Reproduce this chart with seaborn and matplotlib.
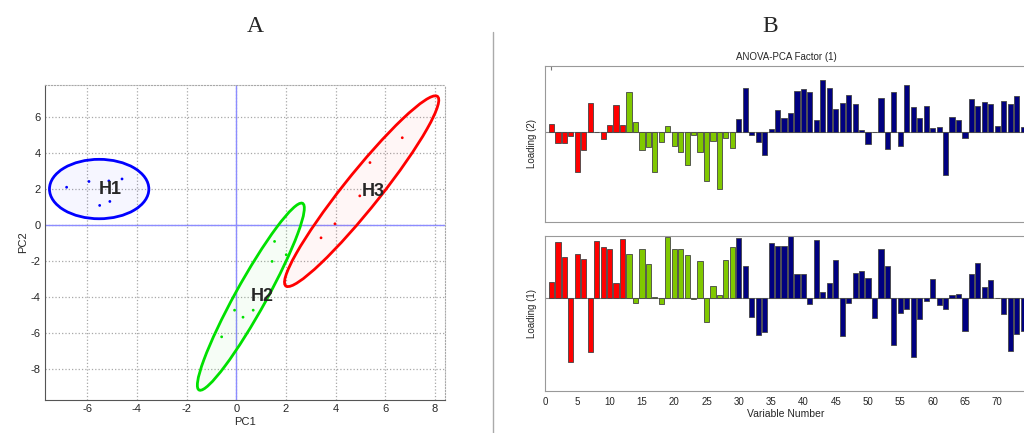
import numpy as np
import pandas as pd
import matplotlib
matplotlib.use("Agg")
import matplotlib.pyplot as plt
import seaborn as sns
from matplotlib.patches import Ellipse
from matplotlib.lines import Line2D

# ---- panel A: PCA scores ----
h1_pc1 = [-6.83, -5.93, -5.13, -4.60, -5.50, -5.09]
h1_pc2 = [2.12, 2.44, 2.47, 2.58, 1.11, 1.33]
h2_pc1 = [1.54, 2.01, 1.44, -0.07, 0.27, 0.68, -0.59]
h2_pc2 = [-0.89, -1.63, -2.00, -4.71, -5.10, -4.71, -6.19]
h3_pc1 = [6.68, 5.38, 4.97, 3.97, 3.41]
h3_pc2 = [4.87, 3.49, 1.64, 0.09, -0.69]
group_names = ["H1", "H2", "H3"]
group_colors = {"H1": "#0000ff", "H2": "#00e000", "H3": "#ff0000"}

# confidence ellipses (data units)
ell_cx = [-5.52, 0.585, 5.045]
ell_cy = [2.02, -3.96, 1.90]
ell_semi_major = [2.00, 5.59, 6.09]
ell_semi_minor = [1.65, 0.65, 0.80]
ell_angle = [0.0, 68.3, 60.2]

# ---- panel B: ANOVA-PCA loadings, variables 1..74 ----
loading2 = [0.024, -0.032, -0.032, -0.010, -0.118, -0.053, 0.088, 0.000, -0.021, 0.021,
            0.083, 0.023, 0.120, 0.031, -0.054, -0.045, -0.119, -0.030, 0.019, -0.042,
            -0.060, -0.097, -0.007, -0.060, -0.146, -0.025, -0.171, -0.016, -0.046, 0.040,
            0.133, -0.009, -0.028, -0.069, 0.009, 0.068, 0.044, 0.057, 0.125, 0.130,
            0.120, 0.037, 0.156, 0.134, 0.069, 0.089, 0.112, 0.086, 0.008, -0.036,
            0.000, 0.102, -0.051, 0.122, -0.042, 0.143, 0.077, 0.042, 0.079, 0.012,
            0.017, -0.128, 0.045, 0.038, -0.018, 0.100, 0.078, 0.092, 0.085, 0.020,
            0.093, 0.084, 0.108, 0.016]
loading1 = [0.046, 0.167, 0.121, -0.194, 0.130, 0.115, -0.163, 0.169, 0.151, 0.145,
            0.044, 0.176, 0.131, -0.016, 0.146, 0.100, 0.003, -0.020, 0.181, 0.145,
            0.147, 0.128, -0.003, 0.110, -0.074, 0.036, 0.008, 0.112, 0.151, 0.180,
            0.095, -0.058, -0.112, -0.102, 0.163, 0.155, 0.155, 0.186, 0.072, 0.072,
            -0.019, 0.172, 0.017, 0.045, 0.112, -0.114, -0.015, 0.073, 0.079, 0.059,
            -0.060, 0.147, 0.096, -0.142, -0.047, -0.034, -0.178, -0.064, -0.010, 0.057,
            -0.022, -0.034, 0.009, 0.012, -0.101, 0.070, 0.104, 0.032, 0.054, 0.000,
            -0.048, -0.159, -0.109, -0.100]
block_ends = [12, 29, 74]
block_names = ["b1", "b2", "b3"]
block_colors = ["#ff0000", "#80c800", "#000080"]

sns.set_style("white")
plt.rcParams["font.family"] = ["Liberation Sans", "DejaVu Sans"]
plt.rcParams["axes.unicode_minus"] = False

W, H = 1024, 433
fig = plt.figure(figsize=(W / 100, H / 100), dpi=100)

# ---------- panel A ----------
ax = fig.add_axes([45 / W, 33 / H, 400 / W, 315 / H])
pts = pd.concat([
    pd.DataFrame({"PC1": h1_pc1, "PC2": h1_pc2, "grp": "H1"}),
    pd.DataFrame({"PC1": h2_pc1, "PC2": h2_pc2, "grp": "H2"}),
    pd.DataFrame({"PC1": h3_pc1, "PC2": h3_pc2, "grp": "H3"}),
])
ax.grid(True, color="#a8a8a8", linestyle=":", linewidth=0.9)
ax.axhline(0, color="#8c8cff", lw=1.0, zorder=1)
ax.axvline(0, color="#8c8cff", lw=1.0, zorder=1)

for i, g in enumerate(group_names):
    c = group_colors[g]
    xy = (ell_cx[i], ell_cy[i])
    w, h = 2 * ell_semi_major[i], 2 * ell_semi_minor[i]
    ax.add_patch(Ellipse(xy, w, h, angle=ell_angle[i], facecolor=c, alpha=0.035,
                         edgecolor="none", zorder=2))
    ax.add_patch(Ellipse(xy, w, h, angle=ell_angle[i], facecolor="none",
                         edgecolor=c, lw=2.0, zorder=3))
    ax.text(ell_cx[i], ell_cy[i], g, ha="left", va="center", fontsize=13,
            fontweight="bold", zorder=5)

sns.scatterplot(data=pts, x="PC1", y="PC2", hue="grp", palette=group_colors,
                s=4, linewidth=0, legend=False, ax=ax, zorder=4)
ax.set_xlim(-7.7, 8.4)
ax.set_ylim(-9.7, 7.8)
ax.set_xticks(np.arange(-6, 9, 2))
ax.set_yticks(np.arange(-8, 7, 2))
ax.set_xlabel("PC1", fontsize=8, labelpad=2)
ax.set_ylabel("PC2", fontsize=8, labelpad=2)
ax.tick_params(labelsize=8, direction="in", length=3, color="#555555", pad=3)
for s in ["left", "bottom"]:
    ax.spines[s].set_color("#555555")
for s in ["top", "right"]:
    ax.spines[s].set_color("#a8a8a8")
    ax.spines[s].set_linestyle(":")

# ---------- panel B ----------
var_num = np.arange(1, len(loading1) + 1)
blk = np.select([var_num <= block_ends[0], var_num <= block_ends[1]],
                block_names[:2], block_names[2])
bars = pd.DataFrame({"var": var_num, "load1": loading1, "load2": loading2, "blk": blk})
pal = dict(zip(block_names, block_colors))

ax_top = fig.add_axes([545 / W, (H - 221.7) / H, 482 / W, 156 / H])
ax_bot = fig.add_axes([545 / W, (H - 391) / H, 482 / W, 155.3 / H])

for a, col, lim in [(ax_top, "load2", (-0.268, 0.200)), (ax_bot, "load1", (-0.280, 0.186))]:
    a.axhline(0, color="#888888", lw=0.8, zorder=0)
    sns.barplot(data=bars, x="var", y=col, hue="blk", palette=pal, native_scale=True,
                dodge=False, width=0.8, errorbar=None, saturation=1,
                edgecolor="#444444", linewidth=0.6, legend=False, ax=a)
    a.set_xlim(0, 74.6)
    a.set_ylim(*lim)
    a.set_yticks([])
    a.set_xlabel("")
    for s in a.spines.values():
        s.set_color("#999999")
    a.tick_params(axis="x", direction="in", length=3, color="#777777", labelsize=7, pad=4)

ax_top.set_xticks([1])
ax_top.tick_params(axis="x", labelbottom=False, top=True)
ax_top.set_ylabel("Loading (2)", fontsize=7, labelpad=6)
ax_top.set_title("ANOVA-PCA Factor (1)", fontsize=7, pad=4)
ax_bot.set_xticks(np.arange(0, 71, 5))
ax_bot.set_ylabel("Loading (1)", fontsize=7, labelpad=6)
ax_bot.set_xlabel("Variable Number", fontsize=7.5, labelpad=2)

# panel letters and divider
fig.text(255 / W, 1 - 27 / H, "A", fontsize=17, family="Liberation Serif", ha="center", va="center")
fig.text(770 / W, 1 - 27 / H, "B", fontsize=17, family="Liberation Serif", ha="center", va="center")
fig.add_artist(Line2D([493 / W, 493 / W], [0, 1 - 32 / H], color="#aaaaaa", lw=1.0))

fig.savefig("out.png", dpi=100)
